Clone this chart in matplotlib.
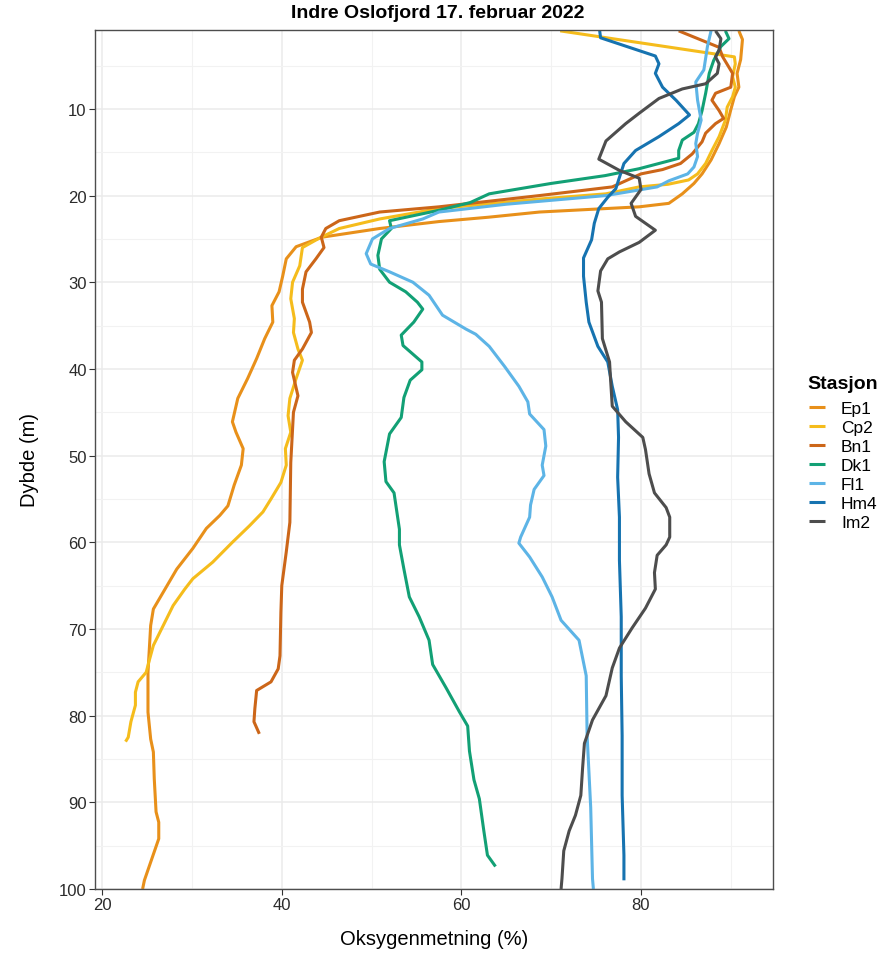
import matplotlib
matplotlib.use("Agg")
import matplotlib.pyplot as plt

plt.rcParams["font.family"] = ["Liberation Sans", "DejaVu Sans"]

# Oxygen saturation profiles per station (depth in m, saturation in %)
stations = ["Ep1", "Cp2", "Bn1", "Dk1", "Fl1", "Hm4", "Im2"]
colors = ["#E8901A", "#F5BC1C", "#CC6619", "#12A075", "#5DB4E6", "#1673B0", "#4D4D4D"]

ep1_depth = [1.0, 2.0, 4.3, 5.9, 7.5, 8.6, 10.1, 12.1, 14.0, 15.9, 17.5, 18.6, 19.8, 20.9,
             21.3, 21.9, 22.5, 23.0, 23.8, 24.8, 25.9, 27.3, 29.3, 31.1, 32.7, 34.6, 36.5,
             38.8, 41.1, 43.4, 46.1, 47.3, 49.2, 51.1, 53.4, 55.8, 56.9, 58.4, 60.7, 63.1,
             65.4, 67.7, 69.6, 75.0, 79.6, 82.7, 84.2, 87.3, 91.1, 92.3, 94.2, 95.7, 97.5,
             99.0, 100.0]
ep1_oxy = [90.9, 91.3, 91.1, 90.7, 90.9, 90.4, 90.0, 89.5, 88.7, 87.8, 86.8, 85.9, 84.6, 83.1,
           79.8, 68.7, 63.0, 57.5, 50.9, 44.5, 41.6, 40.5, 40.1, 39.7, 38.9, 39.0, 38.1,
           37.2, 36.2, 35.1, 34.5, 34.9, 35.7, 35.5, 34.7, 34.0, 33.1, 31.6, 30.1, 28.3,
           27.0, 25.7, 25.4, 25.1, 25.1, 25.4, 25.7, 25.8, 26.0, 26.3, 26.3, 25.8, 25.2,
           24.7, 24.5]

cp2_depth = [1.0, 4.0, 4.8, 6.3, 7.5, 8.6, 9.8, 11.3, 13.2, 14.8, 16.3, 17.5, 18.2, 18.7,
             19.0, 19.8, 20.4, 21.5, 22.7, 23.8, 24.9, 26.0, 28.1, 30.0, 31.9, 34.2, 35.8,
             37.7, 39.0, 41.1, 43.4, 45.4, 47.3, 49.2, 51.1, 53.1, 55.0, 56.5, 58.1, 60.0,
             62.3, 64.2, 65.4, 67.3, 69.6, 71.9, 73.8, 75.0, 76.1, 77.3, 78.8, 80.7, 82.5,
             83.0]
cp2_oxy = [71.0, 90.4, 90.5, 90.2, 90.5, 90.2, 89.6, 89.4, 88.7, 87.9, 87.2, 86.3, 85.3, 83.0,
           79.8, 76.1, 68.7, 57.5, 50.9, 46.4, 44.2, 42.3, 42.0, 41.2, 41.0, 41.4, 41.3,
           41.8, 42.3, 41.6, 40.9, 40.7, 41.0, 40.4, 40.5, 39.9, 38.8, 37.9, 36.4, 34.5,
           32.3, 30.1, 29.2, 27.9, 26.8, 25.7, 25.2, 24.9, 24.0, 23.7, 23.7, 23.2, 22.9,
           22.6]

bn1_depth = [1.0, 2.9, 4.0, 5.9, 7.5, 8.2, 9.0, 10.2, 11.1, 11.7, 12.8, 13.8, 15.2, 16.3,
             17.0, 17.5, 19.0, 20.0, 21.3, 21.9, 22.9, 23.8, 24.8, 26.0, 27.3, 28.8, 30.8,
             32.3, 34.6, 35.8, 37.7, 39.0, 40.4, 43.1, 45.0, 50.8, 57.7, 61.1, 65.0, 68.1,
             73.1, 74.6, 76.1, 77.1, 79.2, 80.7, 82.1]
bn1_oxy = [84.2, 88.7, 89.1, 90.2, 90.0, 88.3, 87.9, 88.7, 89.2, 88.3, 87.2, 86.8, 85.7, 84.4,
           82.4, 80.0, 76.8, 68.7, 57.5, 50.9, 46.4, 44.9, 44.4, 44.7, 43.8, 42.7, 42.3,
           42.3, 43.1, 43.3, 42.3, 41.4, 41.2, 41.8, 41.3, 41.0, 40.9, 40.5, 40.0, 39.9,
           39.8, 39.6, 38.8, 37.2, 37.0, 36.9, 37.5]

dk1_depth = [1.0, 1.9, 2.8, 4.4, 5.9, 8.2, 10.2, 11.7, 12.7, 13.6, 14.8, 15.7, 16.3, 16.9,
             17.7, 18.6, 19.8, 20.8, 21.7, 22.9, 23.8, 25.0, 26.9, 28.5, 30.0, 31.1, 32.3,
             33.1, 34.6, 36.1, 37.3, 39.2, 40.1, 41.3, 43.3, 45.6, 47.5, 50.7, 53.0, 54.3,
             58.5, 60.3, 63.1, 66.3, 68.6, 71.3, 74.1, 76.8, 79.6, 81.2, 84.1, 87.4, 89.6,
             93.3, 96.1, 97.4]
dk1_oxy = [89.4, 89.8, 88.9, 88.1, 87.6, 87.2, 86.8, 86.4, 85.9, 84.6, 84.2, 84.2, 82.0, 79.8,
           76.0, 70.0, 63.1, 61.0, 57.5, 52.0, 52.2, 51.1, 50.7, 50.9, 52.0, 53.8, 55.1,
           55.7, 54.7, 53.3, 53.5, 55.6, 55.6, 54.3, 53.6, 53.3, 52.0, 51.4, 51.6, 52.5,
           53.1, 53.1, 53.6, 54.2, 55.3, 56.4, 56.8, 58.3, 59.8, 60.7, 60.9, 61.4, 62.0,
           62.5, 62.9, 63.8]

fl1_depth = [1.0, 2.8, 5.5, 6.9, 9.0, 11.3, 12.8, 14.0, 15.5, 16.7, 17.5, 18.3, 19.0, 20.0,
             21.0, 21.9, 22.7, 23.8, 25.0, 26.7, 27.9, 28.8, 30.0, 31.5, 33.8, 35.4, 36.0,
             37.4, 39.7, 42.0, 43.8, 45.2, 47.0, 48.9, 51.1, 52.3, 53.9, 55.7, 57.1, 59.4,
             60.1, 61.7, 64.0, 66.3, 69.0, 71.3, 75.4, 82.3, 90.6, 98.8, 100.0]
fl1_oxy = [87.8, 87.4, 87.0, 86.1, 86.3, 86.7, 86.3, 86.1, 86.3, 85.9, 85.2, 83.1, 81.8, 76.1,
           65.0, 57.5, 55.7, 52.0, 50.1, 49.4, 49.9, 52.0, 54.6, 56.4, 57.9, 60.5, 61.6,
           63.1, 64.8, 66.4, 67.4, 67.6, 69.2, 69.4, 69.0, 69.2, 68.1, 67.7, 67.6, 66.6,
           66.4, 67.6, 69.0, 70.1, 71.1, 73.1, 73.9, 74.0, 74.4, 74.6, 74.7]

hm4_depth = [1.0, 1.8, 3.9, 4.8, 5.9, 7.5, 9.0, 10.7, 11.7, 13.2, 14.8, 16.3, 17.9, 19.2,
             20.2, 21.5, 23.2, 25.1, 27.2, 29.3, 32.3, 34.6, 37.4, 39.2, 42.0, 44.7, 47.9,
             52.5, 57.1, 62.1, 68.6, 75.4, 82.3, 89.2, 96.1, 99.0]
hm4_oxy = [75.4, 75.5, 81.6, 82.0, 81.6, 82.4, 83.9, 85.4, 84.2, 82.0, 79.4, 78.1, 77.6, 77.2,
           76.3, 75.3, 74.8, 74.5, 73.6, 73.6, 73.9, 74.2, 75.2, 76.3, 76.8, 77.4, 77.5,
           77.4, 77.6, 77.6, 77.8, 77.8, 77.9, 77.9, 78.1, 78.1]

im2_depth = [1.0, 1.9, 3.2, 4.0, 4.8, 5.9, 7.1, 7.7, 8.8, 10.5, 11.7, 13.7, 15.8, 17.1, 18.0,
             19.3, 20.9, 22.4, 24.0, 25.4, 26.5, 27.3, 28.7, 31.0, 32.3, 36.5, 39.2, 41.0,
             44.3, 46.1, 47.9, 49.3, 52.1, 54.3, 56.0, 57.1, 59.4, 60.3, 61.5, 63.5, 65.4,
             67.6, 69.9, 72.2, 74.5, 77.7, 80.5, 83.2, 86.0, 89.2, 91.5, 93.3, 95.6, 98.8,
             100.0]
im2_oxy = [88.3, 88.9, 88.7, 88.3, 88.7, 88.5, 87.2, 84.6, 82.0, 79.8, 78.3, 76.1, 75.3, 77.6,
           79.8, 80.0, 78.9, 79.4, 81.6, 79.8, 77.6, 76.3, 75.5, 75.2, 75.6, 75.7, 76.5,
           76.6, 76.8, 78.3, 80.2, 80.5, 80.9, 81.5, 82.8, 83.2, 83.2, 82.8, 81.8, 81.5,
           81.6, 80.5, 79.0, 77.6, 76.8, 76.1, 74.6, 73.7, 73.5, 73.3, 72.7, 72.0, 71.4,
           71.2, 71.1]

profiles = [
    (ep1_oxy, ep1_depth), (cp2_oxy, cp2_depth), (bn1_oxy, bn1_depth), (dk1_oxy, dk1_depth),
    (fl1_oxy, fl1_depth), (hm4_oxy, hm4_depth), (im2_oxy, im2_depth),
]

x_ticks = [20, 40, 60, 80]
y_ticks = [10, 20, 30, 40, 50, 60, 70, 80, 90, 100]

W, H = 890, 954
fig = plt.figure(figsize=(W / 100, H / 100), dpi=100)
ax = fig.add_axes([95 / W, (H - 890) / H, (773 - 95) / W, (890 - 31) / H])

for name, col, (oxy, depth) in zip(stations, colors, profiles):
    ax.plot(oxy, depth, color=col, lw=2.2, label=name,
            solid_joinstyle="round", solid_capstyle="butt")

ax.set_xlim(19.2, 94.7)
ax.set_ylim(100, 0.9)

# grid: major and minor lines like theme_bw
ax.set_xticks(x_ticks)
ax.set_yticks(y_ticks)
ax.set_xticks([30, 50, 70, 90], minor=True)
ax.set_yticks([5, 15, 25, 35, 45, 55, 65, 75, 85, 95], minor=True)
ax.grid(True, which="major", color="#EBEBEB", lw=1.1)
ax.grid(True, which="minor", color="#F2F2F2", lw=0.8)
ax.set_axisbelow(True)
ax.tick_params(which="minor", length=0)
ax.tick_params(which="major", length=4, width=0.8, color="#333333",
               labelsize=12, labelcolor="#2b2b2b", pad=2)
for sp in ax.spines.values():
    sp.set_color("#4D4D4D")
    sp.set_linewidth(1.0)

ax.set_xlabel("Oksygenmetning (%)", fontsize=14.5, labelpad=12)
ax.set_ylabel("Dybde (m)", fontsize=14.5, labelpad=14)

fig.text(438 / W, 1 - 14 / H, "Indre Oslofjord 17. februar 2022", ha="center", va="center",
         fontsize=14, fontweight="bold")

# legend: title placed separately to keep the gap above the entries
fig.text(807 / W, 1 - 385 / H, "Stasjon", ha="left", va="center",
         fontsize=14, fontweight="bold")
leg = fig.legend(loc="upper left", bbox_to_anchor=(809 / W, 1 - 402 / H), frameon=False,
                 fontsize=12.5, handlelength=0.95, handletextpad=0.9,
                 labelspacing=0.22, borderaxespad=0, borderpad=0)

fig.savefig("out.png", dpi=100)
